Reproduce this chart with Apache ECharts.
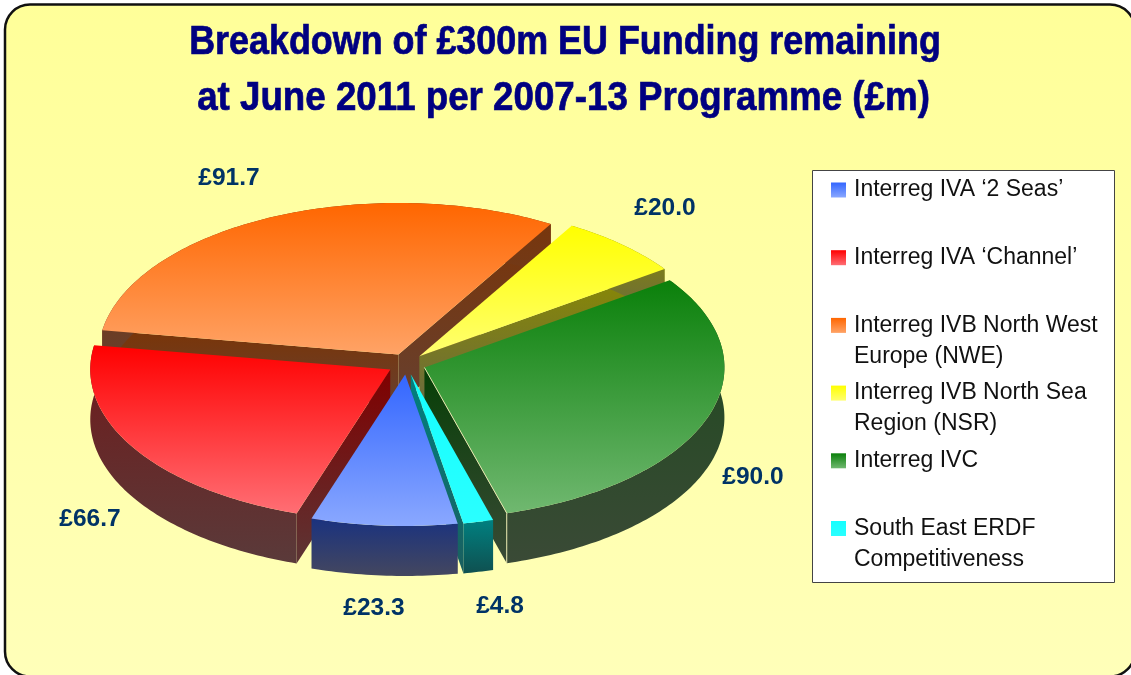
<!DOCTYPE html>
<html>
<head>
<meta charset="utf-8">
<style>html,body{margin:0;padding:0;background:#fff}#c{width:1131px;height:675px}</style>
<script src="https://cdn.jsdelivr.net/npm/echarts@6/dist/echarts.min.js"></script>
</head>
<body>
<div id="c"></div>
<script>
// ---- data ----
const categories = ["Interreg IVA ‘2 Seas’","Interreg IVA ‘Channel’","Interreg IVB North West Europe (NWE)","Interreg IVB North Sea Region (NSR)","Interreg IVC","South East ERDF Competitiveness"];
const legendLines = ["Interreg IVA ‘2 Seas’","Interreg IVA ‘Channel’","Interreg IVB North West\nEurope (NWE)","Interreg IVB North Sea\nRegion (NSR)","Interreg IVC","South East ERDF\nCompetitiveness"];
const values = [23.3, 66.7, 91.7, 20.0, 90.0, 4.8];
const titleLines = ["Breakdown of £300m EU Funding remaining","at June 2011 per 2007-13 Programme (£m)"];

// ---- styling / layout ----
const topColors  = [["#3366ff","#8aa8ff"],["#ff0000","#ff6e74"],["#ff6600","#ffa366"],["#ffff00","#ffff70"],["#0a800a","#70b870"],["#14ffff","#2affff"]];
const rimColors  = [["#1a327f","#44475f"],["#701a1a","#5a3a3a"],["#7a3508","#664030"],["#8a8a00","#6a6a40"],["#1c4a1c","#3a4a36"],["#008080","#0f5050"]];
const wallColors = [["#1a327f","#44475f"],["#800000","#5c3535"],["#7a3508","#664030"],["#8a8a00","#6a6a40"],["#063f06","#3a4a36"],["#008080","#1a5f5f"]];
const seamColors = [null,null,null,null,"#e6e6b0",null];
const paintRank  = [5,3,0,1,2,4];
const labelCenters = [[374,608],[90,519],[229,178],[665,208],[753,477],[500,606]];
const titleLayout = [{x:565,y:43,scaleX:0.897},{x:563.5,y:98.5,scaleX:0.918}];
const CX=406.5, CY=364, RX=300, RY=151.5, EX=19, EY=10.5, DEPTH=50, START_DEG=10.1;

const total = values.reduce((a,b)=>a+b,0);
const grad=(c)=>new echarts.graphic.LinearGradient(0,0,0,1,[{offset:0,color:c[0]},{offset:1,color:c[1]}]);
const rad=d=>d*Math.PI/180;

function renderSlice(i){
  return function(params, api){
    const before = values.slice(0,i).reduce((a,b)=>a+b,0);
    const v = api.value(0);
    const a0 = START_DEG - before/total*360, a1 = a0 - v/total*360, mid=(a0+a1)/2;
    const ax = CX + EX*Math.sin(rad(mid)), ay = CY + EY*Math.cos(rad(mid));
    const pt = d=>[ax+RX*Math.sin(rad(d)), ay+RY*Math.cos(rad(d))];
    const arc=[]; const n=Math.max(8,Math.ceil(Math.abs(a1-a0)));
    for(let k=0;k<=n;k++) arc.push(pt(a0+(a1-a0)*k/n));
    const down=p=>[p[0],p[1]+DEPTH];
    const children=[];
    const wall=(p,q,sx)=>{ // an edge's wall shows only when its outward side faces down the screen
      if(sx*(q[0]-p[0])>0) {
        children.push({type:'polygon',shape:{points:[p,q,down(q),down(p)]},style:{fill:grad(wallColors[i])}});
        if(seamColors[i]) children.push({type:'polyline',z2:5,shape:{points:[p,q,down(q)]},style:{fill:null,stroke:seamColors[i],lineWidth:1}});
      }
    };
    wall([ax,ay],arc[0],-1);         // leading edge
    wall([ax,ay],arc[n],1);          // trailing edge
    children.push({type:'polygon',shape:{points:arc.concat(arc.map(down).reverse())},style:{fill:grad(rimColors[i])}});
    children.push({type:'polygon',shape:{points:[[ax,ay]].concat(arc)},style:{fill:grad(topColors[i])}});
    children.push({type:'text',style:{text:'£'+v.toFixed(1),x:labelCenters[i][0],y:labelCenters[i][1],align:'center',verticalAlign:'middle',fill:'#003366',font:'bold 24.5px "Liberation Sans"'}});
    return {type:'group',children};
  };
}

const chart = echarts.init(document.getElementById('c'),null,{renderer:'canvas'});
chart.setOption({
  animation:false,
  legend:{
    orient:'vertical',left:831,top:143.5,padding:0,itemWidth:15,itemHeight:15,itemGap:-25.3,align:'left',selectedMode:false,
    data:categories.map((c,i)=>({name:c,icon:'rect',itemStyle:{color:grad(topColors[i])}})),
    formatter:(name)=>{const l=legendLines[categories.indexOf(name)].split('\n');return '\n'+l[0]+'\n'+(l[1]||' ');},
    textStyle:{fontFamily:'Liberation Sans',fontSize:23,lineHeight:31,color:'#111',padding:[0,0,0,3]}
  },
  graphic:{elements:[
    {type:'rect',z:-2,silent:true,shape:{x:5,y:4.5,width:1130,height:672,r:25},style:{fill:new echarts.graphic.LinearGradient(0,0,0,1,[{offset:0,color:'#ffff99'},{offset:1,color:'#ffffb9'}]),stroke:'#111',lineWidth:2.5}},
    {type:'rect',z:-1,silent:true,shape:{x:812.5,y:170.5,width:302,height:412},style:{fill:'#fff',stroke:'#444',lineWidth:1}}
  ].concat(titleLines.map((t,i)=>({type:'text',z:6,silent:true,x:titleLayout[i].x,y:titleLayout[i].y,scaleX:titleLayout[i].scaleX,scaleY:1,style:{text:t,x:0,y:0,align:'center',verticalAlign:'middle',fill:'#000080',stroke:'#000080',lineWidth:0.7,font:'bold 40px "Liberation Sans"'}})))},
  series:categories.map((c,i)=>({type:'custom',name:c,coordinateSystem:'none',z:2+paintRank[i],silent:true,itemStyle:{color:topColors[i][0]},data:[[values[i]]],renderItem:renderSlice(i)}))
});
</script>
</body>
</html>
